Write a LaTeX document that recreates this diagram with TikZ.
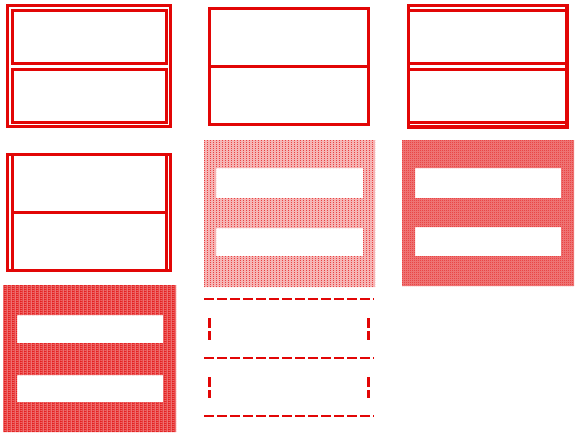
\documentclass[tikz,border=0pt]{standalone}
\usetikzlibrary{patterns.meta}
\definecolor{bordred}{RGB}{226,6,6}
\tikzdeclarepattern{name=vdotcols, type=uncolored,
  bounding box={(0,0) and (3pt,2pt)}, tile size={(3pt,2pt)},
  code={\fill (0,0) rectangle (1pt,1pt);}}
\tikzdeclarepattern{name=finecheck, type=uncolored,
  bounding box={(0,0) and (2pt,2pt)}, tile size={(2pt,2pt)},
  code={\fill (0,0) rectangle (1pt,1pt); \fill (1pt,1pt) rectangle (2pt,2pt);}}
\tikzdeclarepattern{name=hdashcheck, type=uncolored,
  bounding box={(0,0) and (4pt,2pt)}, tile size={(4pt,2pt)},
  code={\fill (0,0) rectangle (3pt,1pt); \fill (2pt,1pt) rectangle (4pt,2pt); \fill (0,1pt) rectangle (1pt,2pt);}}
\begin{document}
\begin{tikzpicture}[x=1pt,y=-1pt,line join=miter]
		\tikzset{bord/.style={draw=bordred,line width=3.5pt},
		thinbord/.style={draw=bordred,line width=3pt},
		dashline/.style={draw=bordred,dash pattern=on 10pt off 3pt}}
		\useasboundingbox (0,0) rectangle (575,439);
		% double everywhere
		\draw[bord] (7.5,5.5) rectangle (170.5,126.5);
		\foreach \t/\b in {10.5/63,69.5/122}
		\draw[thinbord] (12.5,\t) rectangle (166.5,\b);
		% single
		\draw[thinbord] (209.5,8.5) rectangle (368,124.5);
		\draw[thinbord] (209.5,66.5)--(368,66.5);
		% double rows only
		\draw[bord] (408.5,5.5) rectangle (567,127);
		\foreach \y in {10.5,63,69.5,122}
		\draw[thinbord] (408.5,\y)--(567,\y);
		% double columns only
		\draw[thinbord] (7.5,154.5) rectangle (170.5,270.5);
		\foreach \x in {12.5,166.5}
		\draw[thinbord] (\x,154.5)--(\x,270.5);
		\draw[thinbord] (12.5,212)--(166.5,212);
		% patterned frames
		\fill[bordred!30,even odd rule] (204,140) rectangle (375,287) (216,168) rectangle (363,198) (216,228) rectangle (363,256);
		\fill[pattern={vdotcols},pattern color=bordred,even odd rule] (204,140) rectangle (375,287) (216,168) rectangle (363,198) (216,228) rectangle (363,256);
		\fill[bordred!50,even odd rule] (402,140) rectangle (574,286) (415,168) rectangle (561,198) (415,227) rectangle (561,256);
		\fill[pattern={finecheck},pattern color=bordred,even odd rule] (402,140) rectangle (574,286) (415,168) rectangle (561,198) (415,227) rectangle (561,256);
		\fill[bordred!55,even odd rule] (3,285) rectangle (176,432) (17,315) rectangle (163,343) (17,375) rectangle (163,402);
		\fill[pattern={hdashcheck},pattern color=bordred,even odd rule] (3,285) rectangle (176,432) (17,315) rectangle (163,343) (17,375) rectangle (163,402);
		% dashed
		\draw[dashline,line width=1.8pt] (204,299)--(374,299);
		\draw[dashline,line width=2.8pt] (204,358)--(374,358);
		\draw[dashline,line width=1.8pt] (204,416)--(374,416);
		\foreach \x in {209.5,368.5}
		\foreach \t/\b in {318/340,377/398}
		\draw[dashline,line width=3.2pt] (\x,\t)--(\x,\b);
		
		\end{tikzpicture}
\end{document}
